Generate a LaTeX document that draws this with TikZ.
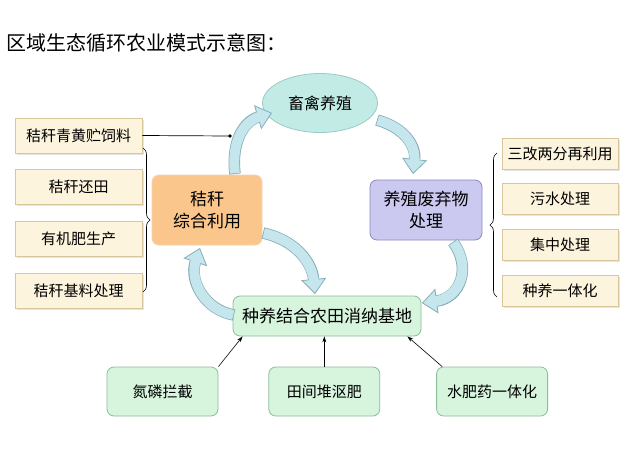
\documentclass[tikz,border=0pt]{standalone}
\usepackage{fontspec}
\setmainfont{Noto Sans CJK SC}
\usetikzlibrary{positioning,arrows.meta,decorations.pathreplacing,shadows,shapes.geometric}

\definecolor{creamfill}{HTML}{FDF4DE}
\definecolor{creamline}{HTML}{D8C69C}
\definecolor{orgfill}{HTML}{FBC68C}
\definecolor{orgline}{HTML}{F2D3AE}
\definecolor{purfill}{HTML}{CBC9EF}
\definecolor{purline}{HTML}{8C8AC0}
\definecolor{grnfill}{HTML}{D7F4DD}
\definecolor{grnline}{HTML}{8DBE98}
\definecolor{elfill}{HTML}{C2EBE6}
\definecolor{elline}{HTML}{9CCBC4}
\definecolor{arrfill}{HTML}{C6E6EE}
\definecolor{arrline}{HTML}{86AEB6}

\tikzset{
  fs/.style={font=\fontsize{#1}{1.3\dimexpr#1pt\relax}\selectfont},
  item/.style={draw=creamline, fill=creamfill, line width=0.8pt,
    drop shadow={opacity=0.2, shadow xshift=1.5pt, shadow yshift=-1.5pt},
    minimum height=35pt, inner sep=0pt, fs=15},
  hub/.style={draw, rounded corners=7pt, line width=0.8pt, align=center,
    inner sep=0pt},
  base/.style={draw=grnline, fill=grnfill, rounded corners=7pt, line width=0.8pt,
    inner sep=0pt},
  cyc/.style={line width=11.5pt, draw=arrline,
    -{Triangle[width=25pt,length=15pt,line width=0.8pt,fill=arrfill]},
    postaction={draw=arrfill, line width=9.9pt, -, shorten >=13pt, shorten <=0.8pt}},
  feed/.style={line width=0.6pt, -{Stealth[length=6pt,width=4pt]}},
  brace/.style={decorate, decoration={brace, amplitude=7pt}, line width=0.6pt},
}

\begin{document}
\begin{tikzpicture}[x=1pt,y=-1pt]
  \useasboundingbox (0,0) rectangle (640,450);
  \fill[white] (0,0) rectangle (640,450);

  % title
  \node[anchor=west, inner sep=0pt, fs=20] (title) at (6,43) {区域生态循环农业模式示意图：};

  % centre of the cycle
  \node[ellipse, draw=elline, fill=elfill, line width=0.8pt, minimum width=115pt,
    minimum height=59pt, inner sep=0pt, fs=16] (live) at (320,103) {畜禽养殖};
  \node[hub, draw=orgline, fill=orgfill, minimum width=110pt, minimum height=70pt,
    fs=17] (straw) at (207,210) {秸秆\\综合利用};
  \node[hub, draw=purline, fill=purfill, minimum width=112pt, minimum height=60pt,
    fs=17] (waste) at (426,210) {养殖废弃物\\处理};
  \node[base, minimum width=188pt, minimum height=40pt, fs=17] (field) at (327,316)
    {种养结合农田消纳基地};

  % left column
  \node[item, minimum width=127pt] (l1) at (78.5,135.5) {秸秆青黄贮饲料};
  \node[item, minimum width=127pt, below=16pt of l1] (l2) {秸秆还田};
  \node[item, minimum width=127pt, below=16pt of l2] (l3) {有机肥生产};
  \node[item, minimum width=127pt, below=16pt of l3] (l4) {秸秆基料处理};

  % right column
  \node[item, minimum width=116pt, minimum height=31pt] (r1) at (560,153.5) {三改两分再利用};
  \node[item, minimum width=116pt, minimum height=31pt, below=14pt of r1] (r2) {污水处理};
  \node[item, minimum width=116pt, minimum height=31pt, below=14pt of r2] (r3) {集中处理};
  \node[item, minimum width=116pt, minimum height=31pt, below=14pt of r3] (r4) {种养一体化};

  % bottom row
  \node[base, minimum width=111pt, minimum height=49pt, fs=15] (b1) at (162.5,391.5) {氮磷拦截};
  \node[base, minimum width=111pt, minimum height=49pt, fs=15, right=50pt of b1] (b2) {田间堆沤肥};
  \node[base, minimum width=111pt, minimum height=49pt, fs=15, right=56pt of b2] (b3) {水肥药一体化};

  % braces
  \draw[brace] (143,148) -- (143,292);
  \draw[brace] (497,297) -- (497,153);

  % cycle arrows
  \draw[cyc] (235,174) .. controls (231,140) and (245,121) .. (272,113);
  \draw[cyc] (377,120) .. controls (405,128) and (416,146) .. (413,174);
  \draw[cyc] (453,242) .. controls (472,268) and (460,298) .. (422,303);
  \draw[cyc] (263,233) .. controls (295,240) and (312,262) .. (315,294);
  \draw[cyc] (234,315) .. controls (205,310) and (189,281) .. (200,248);

  % feed line
  \coordinate (joint) at (230,136);
  \draw[line width=0.7pt] (l1.east) -- (joint);
  \fill (joint) circle (1.8pt);

  % inputs to the field
  \draw[feed] (b1.north east) -- ([xshift=10pt]field.south west);
  \draw[feed] (b2.north) -- (b2.north |- field.south);
  \draw[feed] ([xshift=6pt]b3.north west) -- ([xshift=-14pt]field.south east);
\end{tikzpicture}
\end{document}
